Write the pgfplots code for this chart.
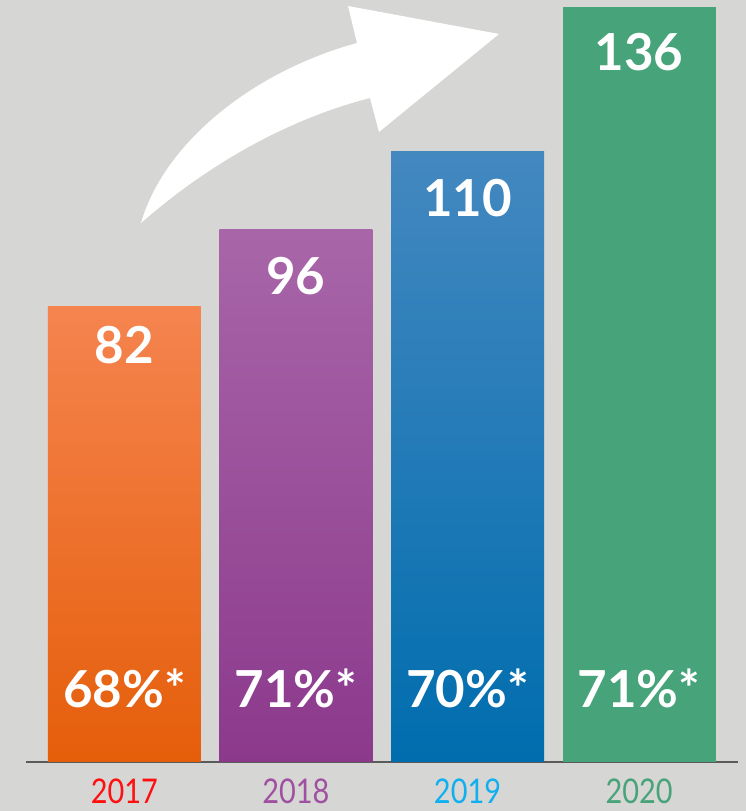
\documentclass[border=0pt]{standalone}
\usepackage{graphicx}
\usepackage{fontspec}
\setmainfont{Lato}
\usepackage{pgfplots}
\pgfplotsset{compat=1.18}
\definecolor{bg}{HTML}{D6D6D4}
\definecolor{axisgray}{HTML}{5A5A5A}
\definecolor{oTop}{HTML}{F5844F}
\definecolor{oBot}{HTML}{E55E0A}
\definecolor{pTop}{HTML}{A866A8}
\definecolor{pBot}{HTML}{8C398C}
\definecolor{bTop}{HTML}{4488C0}
\definecolor{bBot}{HTML}{006DAE}
\definecolor{gFlat}{HTML}{47A47A}
\definecolor{y17}{HTML}{FF1010}
\definecolor{y18}{HTML}{A050A0}
\definecolor{y19}{HTML}{10B0F0}
\definecolor{y20}{HTML}{47A47A}
\newcommand{\yl}[2]{\textcolor{#1}{\scalebox{0.85}[1]{#2}}}
\begin{document}
\begin{tikzpicture}
\fill[bg] (0,0) rectangle (746pt,811pt);
\begin{axis}[
  at={(26pt,49pt)}, anchor=south west,
  scale only axis, width=712pt, height=762pt,
  xmin=-0.574, xmax=3.577, ymin=0, ymax=137.3,
  ybar, bar width=0.892, bar shift=0pt,
  axis x line*=bottom, axis y line=none,
  x axis line style={-, color=axisgray, line width=2pt},
  xtick={0,1,2,3},
  xticklabels={\yl{y17}{2017},\yl{y18}{2018},\yl{y19}{2019},\yl{y20}{2020}},
  xticklabel style={font=\fontsize{34}{34}\selectfont, inner sep=0pt, yshift=-17pt},
  major tick length=0pt,
  ytick=\empty,
  clip=false,
  point meta=explicit symbolic,
  nodes near coords style={white, font=\fontsize{51}{51}\selectfont\bfseries, anchor=base},
]
\addplot[draw=none, top color=oTop, bottom color=oBot, nodes near coords, nodes near coords style={yshift=-57pt}] coordinates {(0,82) [82]};
\addplot[draw=none, top color=pTop, bottom color=pBot, nodes near coords, nodes near coords style={yshift=-65pt}] coordinates {(1,96) [96]};
\addplot[draw=none, top color=bTop, bottom color=bBot, nodes near coords, nodes near coords style={yshift=-65pt}] coordinates {(2,110) [110]};
\addplot[draw=none, fill=gFlat, nodes near coords, nodes near coords style={yshift=-63pt}] coordinates {(3,136) [136]};
\addplot[draw=none, fill=none, nodes near coords] coordinates {(0,9.9) [68\%*] (1,9.9) [71\%*] (2,9.9) [70\%*] (3,9.9) [71\%*]};
\end{axis}
\fill[white] (141pt,588pt) .. controls (165pt,670pt) and (255pt,740pt) .. (357pt,768pt)
  -- (348pt,805pt) -- (499pt,777pt) -- (379pt,679pt) -- (370pt,713pt)
  .. controls (280pt,690pt) and (200pt,640pt) .. cycle;
\pgfresetboundingbox
\path (0,0) rectangle (746pt,811pt);
\end{tikzpicture}
\end{document}
